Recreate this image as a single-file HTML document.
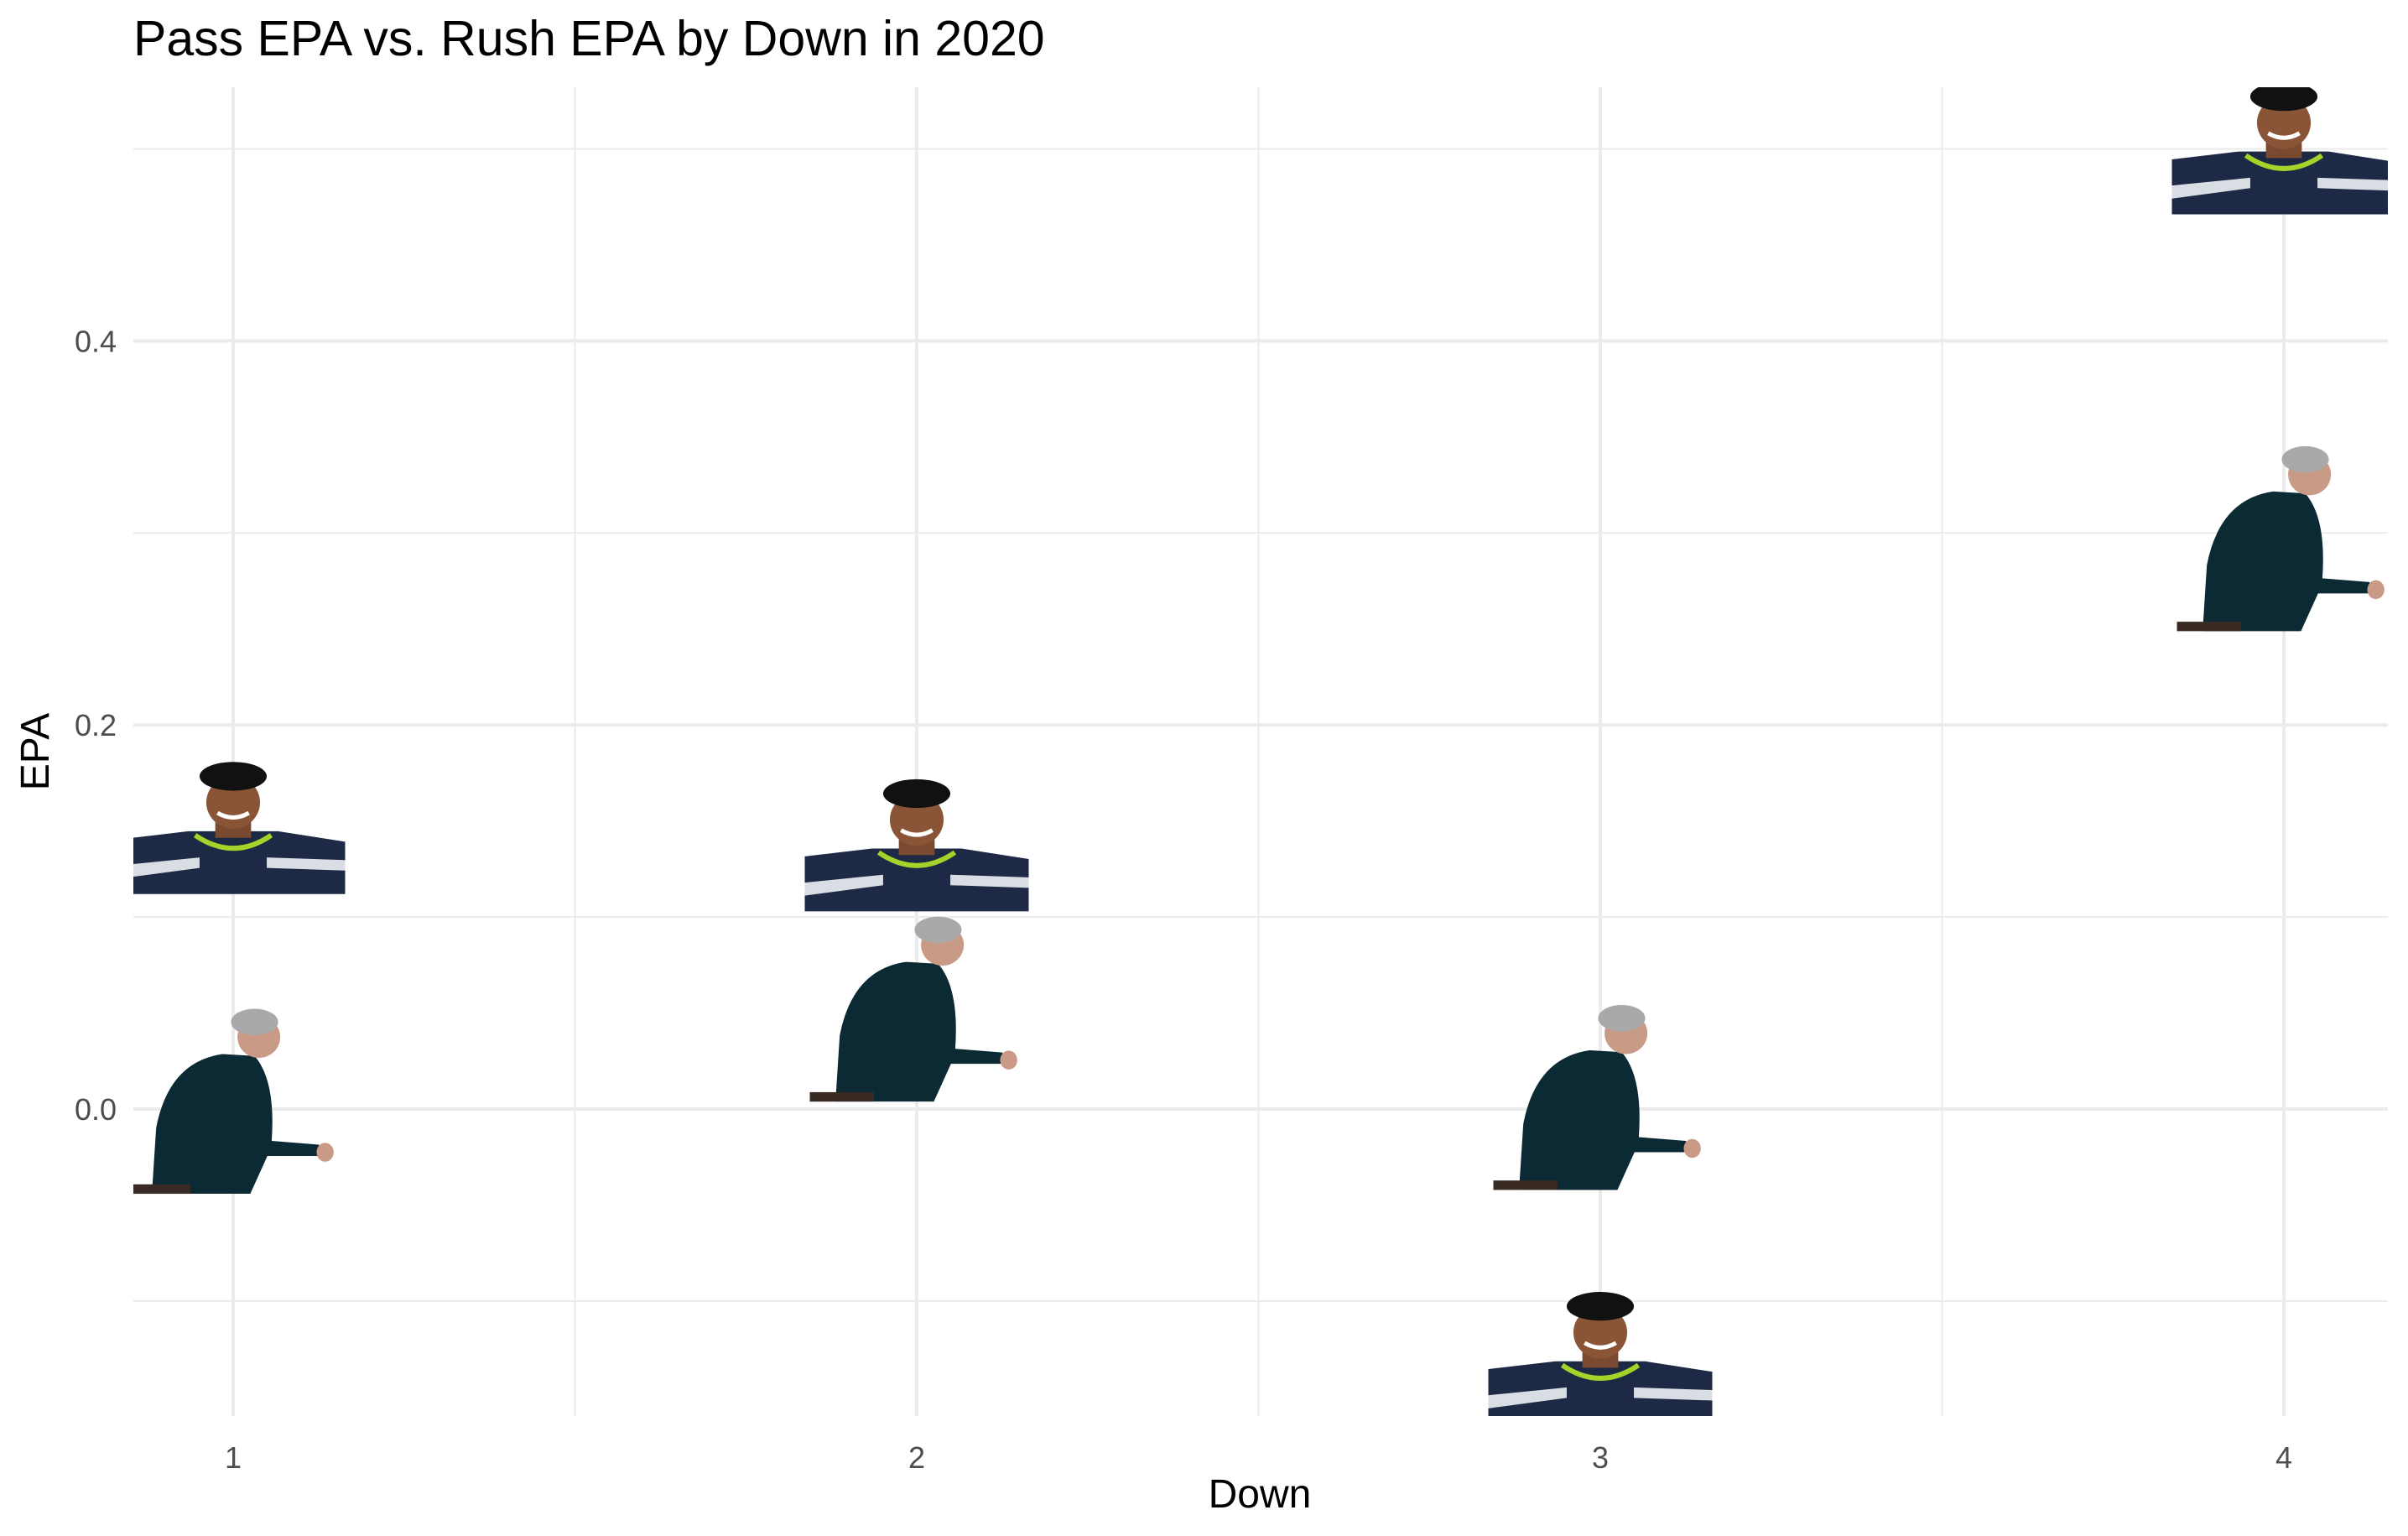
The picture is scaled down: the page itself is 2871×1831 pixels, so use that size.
<!DOCTYPE html>
<html><head><meta charset="utf-8">
<style>
html,body{margin:0;padding:0;background:#fff;}
svg{display:block;font-family:"Liberation Sans",Arial,sans-serif;}
</style></head>
<body>
<svg id="chart" width="2871" height="1831" viewBox="0 0 2871 1831" xmlns="http://www.w3.org/2000/svg">
<defs><clipPath id="panelClip"><rect x="159" y="104" width="2688" height="1584"/></clipPath></defs>
<rect width="2871" height="1831" fill="#fff"/>
<text x="159" y="66" font-size="59" fill="#000">Pass EPA vs. Rush EPA by Down in 2020</text>
<g id="grid"></g>
<g id="marks" clip-path="url(#panelClip)"></g>
<g id="axes"></g>
<text x="1502" y="1797" font-size="48" text-anchor="middle" fill="#000">Down</text>
<text transform="translate(58,896) rotate(-90)" font-size="48" text-anchor="middle" fill="#000">EPA</text>
</svg>
<script>
const downs = [1, 2, 3, 4];
const passEPA = [0.146, 0.137, -0.130, 0.500];
const rushEPA = [0.005, 0.053, 0.007, 0.298];
const xTicks = [1, 2, 3, 4];
const yTicks = [0.0, 0.2, 0.4];
const yTickLabels = ["0.0", "0.2", "0.4"];

const NS = "http://www.w3.org/2000/svg";
const PL = 159, PR = 2847, PT = 104, PB = 1688;
function xs(v){ return 278 + (v - 1) * 815; }
function ys(v){ return 1322 - v * 2289; }
function mk(tag, attrs, parent){
  const e = document.createElementNS(NS, tag);
  for (const k in attrs) e.setAttribute(k, attrs[k]);
  parent.appendChild(e);
  return e;
}
const grid = document.getElementById('grid');
const marks = document.getElementById('marks');
const axes = document.getElementById('axes');

for (let v = 0.5; v <= 4.5; v += 1) {
  const l = mk('line', {x1: xs(v), x2: xs(v), y1: PT, y2: PB, stroke: '#ebebeb', 'stroke-width': 2}, grid);
  
  
}
for (let v = -0.1; v <= 0.55; v += 0.2) {
  const l = mk('line', {x1: PL, x2: PR, y1: ys(v), y2: ys(v), stroke: '#ebebeb', 'stroke-width': 2}, grid);
  
  
}
xTicks.forEach(v => {
  const l = mk('line', {x1: xs(v), x2: xs(v), y1: PT, y2: PB, stroke: '#ebebeb', 'stroke-width': 4}, grid);
  
  
  const t = mk('text', {x: xs(v), y: 1750, 'font-size': 36, 'text-anchor': 'middle', fill: '#4d4d4d'}, axes);
  t.textContent = String(v);
  
  
});
yTicks.forEach((v, i) => {
  const l = mk('line', {x1: PL, x2: PR, y1: ys(v), y2: ys(v), stroke: '#ebebeb', 'stroke-width': 4}, grid);
  
  
  const t = mk('text', {x: 139, y: ys(v) + 13, 'font-size': 36, 'text-anchor': 'end', fill: '#4d4d4d'}, axes);
  t.textContent = yTickLabels[i];
  
  
});

function wilson(cx, cy){
  const w = 267, h = 156, x = cx - w/2, y = cy - h/2;
  const g = mk('g', {}, marks);
  
  
  mk('path', {d: `M${x} ${y+0.58*h} L${x+0.3*w} ${y+0.52*h} L${x+0.7*w} ${y+0.52*h} L${x+w} ${y+0.6*h} L${x+w} ${y+h} L${x} ${y+h} Z`, fill: '#1e2a45'}, g);
  mk('path', {d: `M${x} ${y+0.78*h} L${x+0.35*w} ${y+0.72*h} L${x+0.35*w} ${y+0.8*h} L${x} ${y+0.88*h} Z`, fill: '#d9dde4'}, g);
  mk('path', {d: `M${x+0.65*w} ${y+0.72*h} L${x+w} ${y+0.74*h} L${x+w} ${y+0.82*h} L${x+0.65*w} ${y+0.8*h} Z`, fill: '#d9dde4'}, g);
  mk('rect', {x: x+0.42*w, y: y+0.45*h, width: 0.16*w, height: 0.12*h, fill: '#7a4a30'}, g);
  mk('path', {d: `M${x+0.33*w} ${y+0.55*h} Q${x+0.5*w} ${y+0.75*h} ${x+0.67*w} ${y+0.55*h}`, stroke: '#a6d22a', 'stroke-width': 6, fill: 'none'}, g);
  mk('ellipse', {cx: x+0.5*w, cy: y+0.3*h, rx: 0.12*w, ry: 0.2*h, fill: '#8a5536'}, g);
  mk('ellipse', {cx: x+0.5*w, cy: y+0.1*h, rx: 0.15*w, ry: 0.11*h, fill: '#111'}, g);
  mk('path', {d: `M${x+0.43*w} ${y+0.38*h} Q${x+0.5*w} ${y+0.45*h} ${x+0.57*w} ${y+0.38*h}`, stroke: '#fff', 'stroke-width': 5, fill: 'none'}, g);
}
function carroll(cx, cy){
  const w = 255, h = 225, x = cx - w/2, y = cy - h/2;
  const g = mk('g', {}, marks);
  
  
  mk('path', {d: `M${x+0.12*w} ${y+h} L${x+0.14*w} ${y+0.65*h} Q${x+0.2*w} ${y+0.3*h} ${x+0.45*w} ${y+0.26*h} L${x+0.6*w} ${y+0.27*h} Q${x+0.7*w} ${y+0.4*h} ${x+0.68*w} ${y+0.72*h} L${x+0.9*w} ${y+0.74*h} L${x+0.93*w} ${y+0.8*h} L${x+0.66*w} ${y+0.8*h} L${x+0.58*w} ${y+h} Z`, fill: '#0c2a33'}, g);
  mk('rect', {x: x, y: y+0.95*h, width: 0.3*w, height: 0.05*h, fill: '#3a2a24'}, g);
  mk('ellipse', {cx: x+0.93*w, cy: y+0.78*h, rx: 0.04*w, ry: 0.05*h, fill: '#c99a86'}, g);
  mk('ellipse', {cx: x+0.62*w, cy: y+0.17*h, rx: 0.1*w, ry: 0.11*h, fill: '#c99a86'}, g);
  mk('ellipse', {cx: x+0.6*w, cy: y+0.09*h, rx: 0.11*w, ry: 0.07*h, fill: '#a9a9a9'}, g);
}
downs.forEach((d, i) => wilson(xs(d), ys(passEPA[i])));
downs.forEach((d, i) => carroll(xs(d), ys(rushEPA[i])));
</script>
</body></html>
